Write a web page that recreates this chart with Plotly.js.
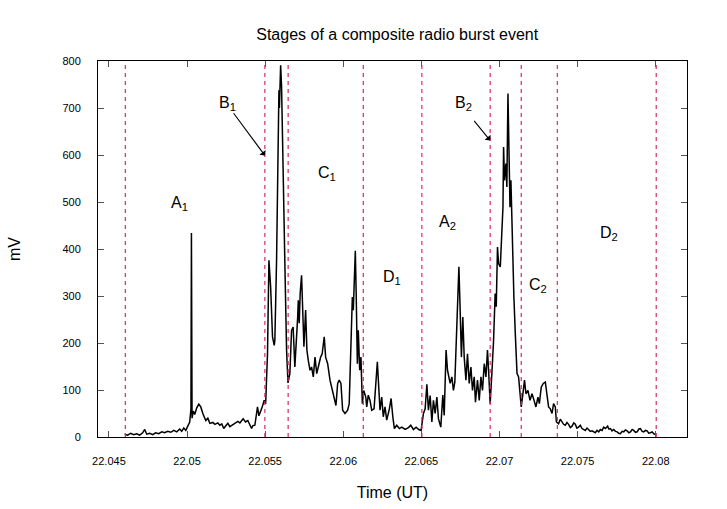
<!DOCTYPE html>
<html>
<head>
<meta charset="utf-8">
<script src="https://cdn.plot.ly/plotly-3.0.1.min.js"></script>
<style>html,body{margin:0;padding:0;background:#fff}#chart{width:727px;height:509px}</style>
</head>
<body>
<div id="chart"></div>
<script>
const timeUT = [
22.04601,22.04620,22.04639,22.04658,22.04678,22.04697,22.04716,22.04729,22.04742,22.04761,
22.04780,22.04799,22.04819,22.04838,22.04857,22.04876,22.04896,22.04915,22.04934,22.04953,
22.04966,22.04979,22.04992,22.05004,22.05017,22.05025,22.05028,22.05032,22.05040,22.05049,
22.05062,22.05075,22.05088,22.05101,22.05120,22.05133,22.05146,22.05165,22.05178,22.05197,
22.05210,22.05222,22.05235,22.05248,22.05261,22.05274,22.05293,22.05306,22.05325,22.05338,
22.05359,22.05374,22.05389,22.05413,22.05421,22.05434,22.05451,22.05460,22.05466,22.05481,
22.05494,22.05503,22.05515,22.05524,22.05535,22.05547,22.05558,22.05562,22.05573,22.05580,
22.05583,22.05588,22.05591,22.05594,22.05599,22.05605,22.05615,22.05626,22.05637,22.05646,
22.05658,22.05669,22.05679,22.05690,22.05708,22.05712,22.05718,22.05724,22.05733,22.05740,
22.05748,22.05759,22.05767,22.05776,22.05787,22.05797,22.05808,22.05819,22.05830,22.05840,
22.05855,22.05865,22.05878,22.05887,22.05900,22.05915,22.05926,22.05942,22.05953,22.05964,
22.05974,22.05985,22.05996,22.06011,22.06028,22.06038,22.06047,22.06058,22.06064,22.06071,
22.06077,22.06083,22.06090,22.06096,22.06105,22.06113,22.06122,22.06131,22.06144,22.06150,
22.06160,22.06171,22.06182,22.06197,22.06210,22.06218,22.06227,22.06235,22.06246,22.06256,
22.06267,22.06278,22.06295,22.06306,22.06317,22.06327,22.06342,22.06359,22.06374,22.06396,
22.06417,22.06432,22.06449,22.06466,22.06483,22.06498,22.06513,22.06524,22.06535,22.06545,
22.06556,22.06567,22.06577,22.06588,22.06599,22.06609,22.06624,22.06637,22.06646,22.06658,
22.06667,22.06676,22.06684,22.06695,22.06705,22.06714,22.06722,22.06731,22.06740,22.06748,
22.06756,22.06765,22.06774,22.06785,22.06795,22.06806,22.06817,22.06827,22.06838,22.06846,
22.06859,22.06870,22.06881,22.06891,22.06902,22.06913,22.06923,22.06932,22.06940,22.06951,
22.06962,22.06972,22.06979,22.06987,22.06994,22.07005,22.07015,22.07022,22.07026,22.07032,
22.07041,22.07047,22.07054,22.07060,22.07067,22.07073,22.07083,22.07092,22.07101,22.07112,
22.07122,22.07131,22.07139,22.07147,22.07160,22.07169,22.07182,22.07195,22.07208,22.07221,
22.07233,22.07246,22.07255,22.07267,22.07280,22.07293,22.07304,22.07314,22.07325,22.07336,
22.07346,22.07357,22.07364,22.07378,22.07389,22.07400,22.07410,22.07421,22.07432,22.07442,
22.07453,22.07464,22.07475,22.07485,22.07495,22.07506,22.07517,22.07528,22.07538,22.07549,
22.07560,22.07571,22.07581,22.07592,22.07603,22.07613,22.07624,22.07635,22.07645,22.07656,
22.07667,22.07678,22.07692,22.07700,22.07710,22.07720,22.07731,22.07742,22.07753,22.07763,
22.07774,22.07785,22.07795,22.07806,22.07817,22.07828,22.07838,22.07849,22.07859,22.07870,
22.07881,22.07892,22.07902,22.07913,22.07923,22.07934,22.07945,22.07955,22.07966,22.07977,
22.07987,22.08003
];
const signalMV = [
6,4,8,5,7,4,9,16,6,8,
5,9,7,11,9,12,10,14,11,17,
12,19,14,22,32,60,434,40,55,48,
62,70,64,50,35,40,29,31,27,30,
25,28,18,24,29,22,26,28,33,30,
39,32,35,18,24,25,64,45,50,64,
78,71,177,376,319,213,195,206,376,589,
723,738,700,759,791,745,518,370,185,115,
135,227,234,149,255,291,242,305,344,277,
192,270,185,163,142,149,128,170,135,149,
170,177,213,170,156,121,106,78,67,114,
121,114,57,50,57,71,156,298,270,348,
396,298,156,227,142,170,71,99,85,64,
89,78,57,60,121,160,106,57,85,43,
64,36,60,82,43,18,25,18,21,16,
20,25,16,21,16,14,50,60,112,57,
88,32,78,50,85,39,21,89,46,185,
142,128,114,128,99,117,185,277,362,270,
170,255,170,121,177,114,149,99,128,74,
121,78,128,99,156,128,185,128,71,135,
206,305,277,404,369,362,461,489,617,546,
582,532,731,617,489,546,404,298,220,135,
128,99,64,85,121,92,99,78,92,78,
64,85,71,106,114,117,92,64,60,50,
71,64,32,28,38,32,27,25,31,27,
20,23,30,27,19,21,25,18,16,14,
19,16,12,13,10,9,14,11,16,14,
21,18,23,17,18,13,16,12,11,8,
7,12,11,15,13,9,11,16,14,10,
11,17,18,12,11,14,13,8,9,11,
7,4
];
const stageBoundaries = [22.04605,22.05498,22.05647,22.06128,22.06503,22.06940,22.07139,22.07370,22.08003];
const stageLabels = ['A<sub>1</sub>','B<sub>1</sub>','C<sub>1</sub>','D<sub>1</sub>','A<sub>2</sub>','B<sub>2</sub>','C<sub>2</sub>','D<sub>2</sub>'];
const labelTimes = [22.04953,22.05261,22.05896,22.06312,22.06665,22.06767,22.07248,22.07703];
const labelMV = [497,710,560,340,456,710,322,432];
const arrowTails = [[22.05291,692],[22.06830,676]];
const arrowTips = [[22.05498,599],[22.06940,631]];

const FONT = 'Liberation Sans, Arial, sans-serif';

const traces = [{
  x: timeUT, y: signalMV, type: 'scatter', mode: 'lines',
  line: {color: '#000', width: 1.5}, hoverinfo: 'skip', showlegend: false
}];

const shapes = stageBoundaries.map(t => ({
  type: 'line', xref: 'x', yref: 'y', x0: t, x1: t, y0: 0, y1: 800,
  line: {color: '#e0285a', width: 1.2, dash: '4px,4px'}
}));

const annotations = stageLabels.map((s, i) => ({
  x: labelTimes[i], y: labelMV[i], xref: 'x', yref: 'y', text: s, showarrow: false,
  font: {family: FONT, size: 16, color: '#000'}
}));
arrowTips.forEach((tip, i) => {
  annotations.push({
    x: tip[0], y: tip[1], xref: 'x', yref: 'y',
    ax: arrowTails[i][0], ay: arrowTails[i][1], axref: 'x', ayref: 'y',
    text: '', showarrow: true, arrowhead: 1, arrowsize: 1.2, arrowwidth: 1.1, arrowcolor: '#000'
  });
});

const layout = {
  width: 727, height: 509,
  margin: {l: 98, r: 40, t: 61, b: 72},
  paper_bgcolor: '#fff', plot_bgcolor: '#fff',
  font: {family: FONT, size: 11, color: '#000'},
  title: {text: 'Stages of a composite radio burst event', font: {family: FONT, size: 16, color: '#000'},
          x: 0.508, xref: 'paper', y: 0.933, yref: 'container', xanchor: 'center', yanchor: 'middle'},
  xaxis: {
    range: [22.0443, 22.0820], tickvals: [22.045,22.05,22.055,22.06,22.065,22.07,22.075,22.08],
    ticktext: ['22.045','22.05','22.055','22.06','22.065','22.07','22.075','22.08'],
    ticks: 'inside', ticklen: 6, tickcolor: '#555', mirror: 'ticks', showline: true,
    linecolor: '#000', linewidth: 1, showgrid: false, zeroline: false,
    ticklabelstandoff: 14, tickfont: {family: FONT, size: 11, color: '#000'},
    title: {text: 'Time (UT)', font: {family: FONT, size: 16, color: '#000'}, standoff: 20}
  },
  yaxis: {
    range: [0, 800], tickvals: [0,100,200,300,400,500,600,700,800],
    ticks: 'inside', ticklen: 6, tickcolor: '#555', mirror: 'ticks', showline: true,
    linecolor: '#000', linewidth: 1, showgrid: false, zeroline: false,
    ticklabelstandoff: 14, tickfont: {family: FONT, size: 11, color: '#000'},
    title: {text: 'mV', font: {family: FONT, size: 16, color: '#000'}, standoff: 37}
  },
  shapes: shapes, annotations: annotations
};

Plotly.newPlot('chart', traces, layout, {staticPlot: true, displayModeBar: false});
</script>
</body>
</html>
